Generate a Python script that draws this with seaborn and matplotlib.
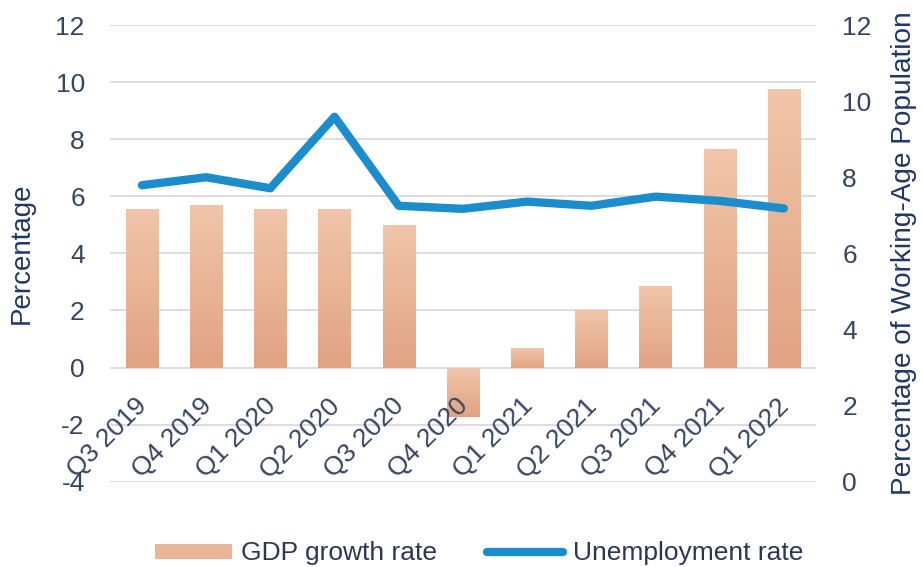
import numpy as np
import pandas as pd
import matplotlib
matplotlib.use("Agg")
import matplotlib.pyplot as plt
import matplotlib.transforms as mtransforms
from matplotlib.colors import LinearSegmentedColormap
from matplotlib.patches import Patch
from matplotlib.lines import Line2D
import seaborn as sns

# Quarterly series
quarters = ["Q3 2019", "Q4 2019", "Q1 2020", "Q2 2020", "Q3 2020", "Q4 2020",
            "Q1 2021", "Q2 2021", "Q3 2021", "Q4 2021", "Q1 2022"]
gdp_growth = [5.56, 5.68, 5.56, 5.56, 5.0, -1.74, 0.67, 2.0, 2.86, 7.66, 9.75]
unemployment = [7.79, 8.0, 7.71, 9.59, 7.25, 7.17, 7.36, 7.25, 7.49, 7.38, 7.18]

left_ticks = [-4, -2, 0, 2, 4, 6, 8, 10, 12]
right_ticks = [0, 2, 4, 6, 8, 10, 12]

df = pd.DataFrame({"quarter": quarters, "gdp": gdp_growth, "unemp": unemployment})

sns.set_theme(style="white")
plt.rcParams["font.family"] = ["Liberation Sans", "DejaVu Sans"]

BAR_TOP = "#f1c5aa"
BAR_BOTTOM = "#e0a383"
BAR_MID = "#eab596"
LINE_BLUE = "#1b8dcc"
GRID = "#d8d9e4"
TICK_COLOR = "#35445f"
LABEL_COLOR = "#1f3766"
FS = 19

fig = plt.figure(figsize=(9.23, 5.67), dpi=100)
ax = fig.add_axes([0.119, 0.1504, 0.765, 0.8055])

sns.barplot(data=df, x="quarter", y="gdp", color=BAR_MID, width=0.5,
            saturation=1, ax=ax, zorder=2)

# vertical gradient inside each bar
grad_cmap = LinearSegmentedColormap.from_list("bar_grad", [BAR_BOTTOM, BAR_TOP])
grad = np.linspace(0, 1, 256).reshape(-1, 1)
for bar in ax.patches:
    x0, w = bar.get_x(), bar.get_width()
    y0, h = bar.get_y(), bar.get_height()
    lo, hi = min(y0, y0 + h), max(y0, y0 + h)
    im = ax.imshow(grad, cmap=grad_cmap, aspect="auto", origin="lower",
                   extent=[x0, x0 + w, lo, hi], zorder=2.5, interpolation="bilinear")
    im.set_clip_path(bar)
    bar.set_edgecolor("none")

ax.set_xlim(-0.5, len(quarters) - 0.5)
ax.set_ylim(-4, 12)
ax.set_yticks(left_ticks)
ax.set_yticklabels([str(t) for t in left_ticks])
ax.grid(axis="y", color=GRID, linewidth=1.3, zorder=0)
ax.grid(axis="x", visible=False)
for s in ax.spines.values():
    s.set_visible(False)

# category labels sit just below the zero line, drawn over the bars
ax.spines["bottom"].set_position(("data", 0))
ax.xaxis.set_zorder(5)
ax.tick_params(axis="x", length=0, pad=19, labelsize=FS, labelcolor=TICK_COLOR)
ax.tick_params(axis="y", length=0, pad=18, labelsize=FS, labelcolor=TICK_COLOR)
shift = mtransforms.ScaledTranslation(-5 / 72, 0, fig.dpi_scale_trans)
for lab in ax.get_xticklabels():
    lab.set_rotation(45)
    lab.set_ha("right")
    lab.set_va("top")
    lab.set_rotation_mode("anchor")
    lab.set_transform(lab.get_transform() + shift)

ax.set_xlabel("")
ax.set_ylabel("Percentage", fontsize=20, color=LABEL_COLOR)
ax.yaxis.set_label_coords(-0.106, 0.5)

ax2 = ax.twinx()
sns.lineplot(data=df, x="quarter", y="unemp", color=LINE_BLUE, linewidth=6,
             ax=ax2, sort=False, solid_capstyle="round", solid_joinstyle="round")
ax2.set_xlim(-0.5, len(quarters) - 0.5)
ax2.set_ylim(0, 12)
ax2.set_yticks(right_ticks)
ax2.set_yticklabels([str(t) for t in right_ticks])
ax2.grid(False)
for s in ax2.spines.values():
    s.set_visible(False)
ax2.tick_params(axis="y", length=0, pad=19, labelsize=FS, labelcolor=TICK_COLOR)
ax2.set_ylabel("Percentage of Working-Age Population", fontsize=20.2, color=LABEL_COLOR)
ax2.yaxis.set_label_coords(1.106, 0.5)
ax2.set_xlabel("")

handles = [Patch(facecolor=BAR_MID, edgecolor="none"),
           Line2D([0], [0], color=LINE_BLUE, linewidth=6, solid_capstyle="round")]
fig.legend(handles, ["GDP growth rate", "Unemployment rate"],
           loc="center", bbox_to_anchor=(0.519, 0.024), ncol=2, frameon=False,
           fontsize=FS, labelcolor="#2b3852", handlelength=2.9, handleheight=0.5,
           handletextpad=0.35, columnspacing=1.9, borderpad=0)

fig.savefig("out.png", dpi=100, facecolor="white")
